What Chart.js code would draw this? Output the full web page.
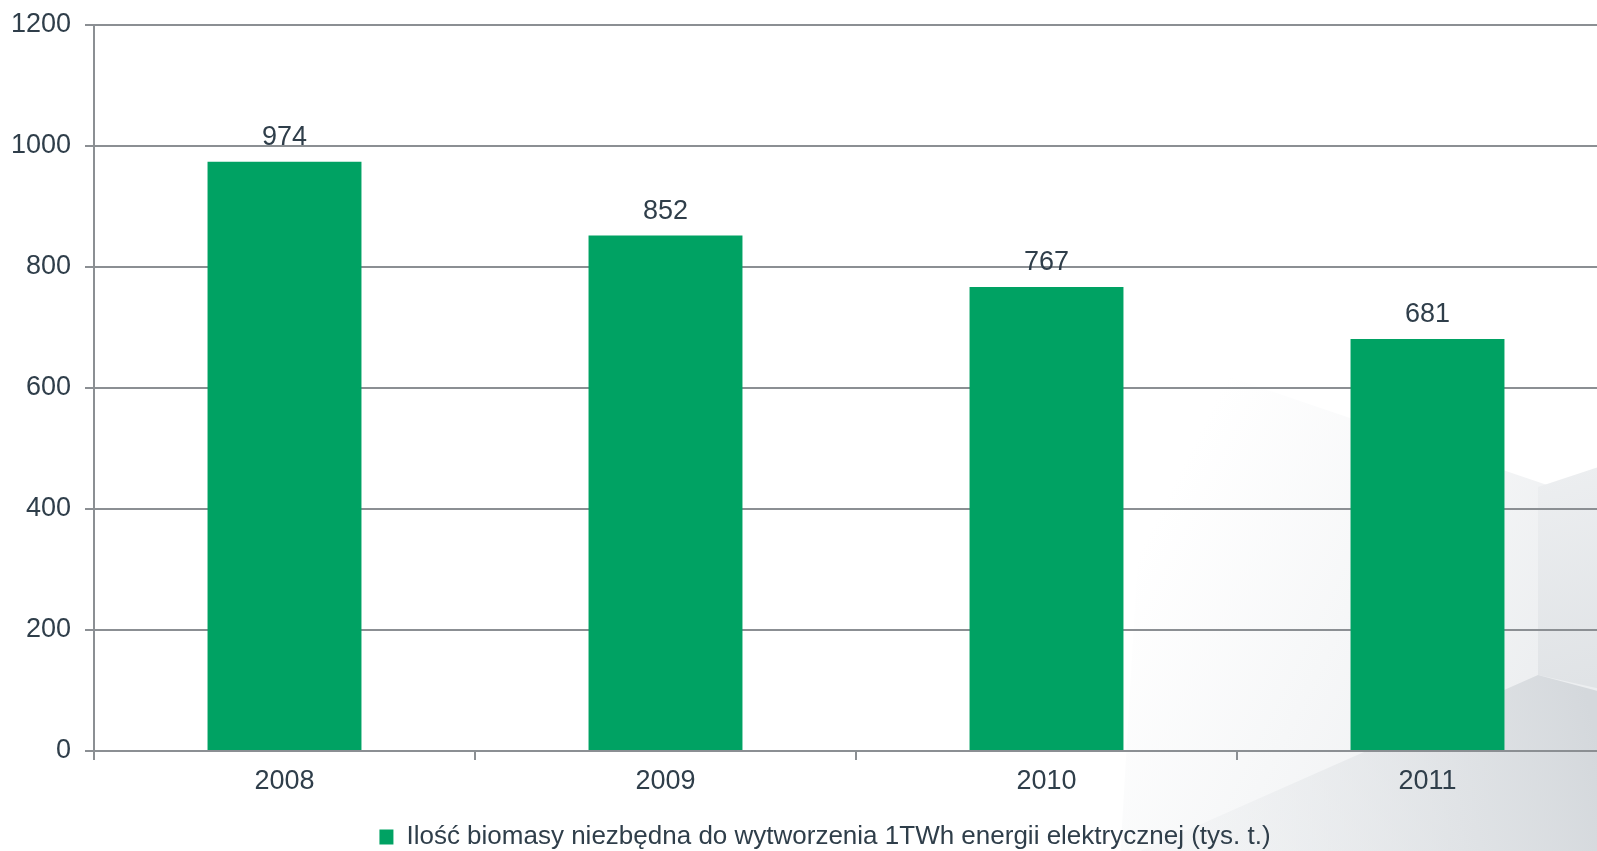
<!DOCTYPE html>
<html>
<head>
<meta charset="utf-8">
<script src="https://cdn.jsdelivr.net/npm/chart.js@4.4.0/dist/chart.umd.min.js"></script>
<style>
  html, body { margin: 0; padding: 0; background: #ffffff; overflow: hidden; }
  #wrap { position: relative; width: 1597px; height: 851px; overflow: hidden; }
  #wrap canvas { position: absolute; left: 0; top: 0; }
</style>
</head>
<body>
<div id="wrap"><canvas id="chart" width="1650" height="860"></canvas></div>
<script>
// Biomass needed to generate 1 TWh of electricity, thousand tonnes
const years = ['2008', '2009', '2010', '2011'];
const biomass = [974, 852, 767, 681];
const yTicks = [0, 200, 400, 600, 800, 1000, 1200];
const seriesLabel = 'Ilość biomasy niezbędna do wytworzenia 1TWh energii elektrycznej (tys. t.)';

const FONT = '"Liberation Sans", Arial, Helvetica, sans-serif';
const TEXT = '#2f3e4a';
const GRID = '#8b8f93';
const BAR = '#00a263';

// soft grey geometric backdrop in the lower right corner
const backdrop = {
  id: 'backdrop',
  beforeDraw(chart) {
    const ctx = chart.ctx;
    ctx.save();
    ctx.fillStyle = '#ffffff';
    ctx.fillRect(0, 0, chart.width, chart.height);

    let g = ctx.createLinearGradient(1200, 430, 1580, 620);
    g.addColorStop(0, 'rgba(238,240,242,0)');
    g.addColorStop(1, 'rgba(236,238,240,1)');
    ctx.fillStyle = g;
    ctx.beginPath();
    ctx.moveTo(1150, 350); ctx.lineTo(1650, 520); ctx.lineTo(1650, 860); ctx.lineTo(1120, 860);
    ctx.closePath(); ctx.fill();

    g = ctx.createLinearGradient(1538, 480, 1597, 680);
    g.addColorStop(0, '#eceef0');
    g.addColorStop(1, '#e0e3e6');
    ctx.fillStyle = g;
    ctx.beginPath();
    ctx.moveTo(1538, 487); ctx.lineTo(1650, 450); ctx.lineTo(1650, 700); ctx.lineTo(1538, 675);
    ctx.closePath(); ctx.fill();

    g = ctx.createLinearGradient(1160, 840, 1597, 740);
    g.addColorStop(0, 'rgba(236,238,240,0.3)');
    g.addColorStop(1, 'rgba(212,216,220,1)');
    ctx.fillStyle = g;
    ctx.beginPath();
    ctx.moveTo(1120, 860); ctx.lineTo(1538, 675); ctx.lineTo(1650, 705); ctx.lineTo(1650, 860);
    ctx.closePath(); ctx.fill();
    ctx.restore();
  }
};

// value written above each bar
const valueLabels = {
  id: 'valueLabels',
  afterDatasetsDraw(chart) {
    const ctx = chart.ctx;
    const meta = chart.getDatasetMeta(0);
    ctx.save();
    ctx.font = '27px ' + FONT;
    ctx.fillStyle = TEXT;
    ctx.textAlign = 'center';
    ctx.textBaseline = 'alphabetic';
    meta.data.forEach((bar, i) => {
      ctx.fillText(String(biomass[i]), bar.x, bar.y - 17);
    });
    ctx.restore();
  }
};

new Chart(document.getElementById('chart'), {
  type: 'bar',
  data: {
    labels: years,
    datasets: [{
      label: seriesLabel,
      data: biomass,
      backgroundColor: BAR,
      borderWidth: 0,
      barPercentage: 0.404,
      categoryPercentage: 1.0
    }]
  },
  plugins: [backdrop, valueLabels],
  options: {
    responsive: false,
    animation: false,
    devicePixelRatio: 1,
    layout: { padding: { top: 25, left: 0, right: 0, bottom: 0 } },
    plugins: {
      tooltip: { enabled: false },
      legend: {
        position: 'bottom',
        labels: {
          boxWidth: 14,
          boxHeight: 15,
          padding: 10,
          color: TEXT,
          font: { family: FONT, size: 26 }
        }
      }
    },
    scales: {
      x: {
        grid: { display: true, offset: true, drawOnChartArea: false, drawTicks: true, tickLength: 9, color: GRID, lineWidth: 2 },
        border: { display: true, color: GRID, width: 2 },
        ticks: { color: TEXT, font: { family: FONT, size: 27 }, padding: 5, maxRotation: 0 },
        afterFit(s) { s.height = 63; }
      },
      y: {
        min: 0,
        max: 1200,
        afterBuildTicks(s) { s.ticks = yTicks.map(v => ({ value: v })); },
        grid: { color: GRID, lineWidth: 2, tickLength: 9, drawTicks: true },
        border: { display: true, color: GRID, width: 2 },
        ticks: { color: TEXT, font: { family: FONT, size: 27 }, padding: 14, callback: v => String(v) },
        afterFit(s) { s.width = 94; s.paddingTop = 0; s.paddingBottom = 0; }
      },
      yRight: {
        type: 'linear',
        position: 'right',
        display: true,
        grid: { display: false, drawTicks: false },
        border: { display: false },
        ticks: { display: false },
        afterFit(s) { s.width = 32; s.paddingTop = 0; s.paddingBottom = 0; }
      }
    }
  }
});
</script>
</body>
</html>
